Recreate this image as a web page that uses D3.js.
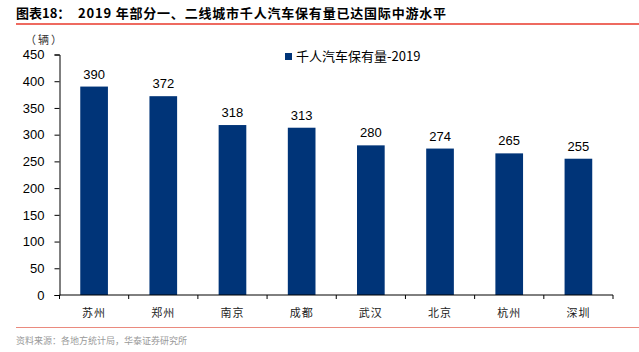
<!DOCTYPE html>
<html>
<head>
<meta charset="utf-8">
<script src="https://cdn.jsdelivr.net/npm/d3@7"></script>
<style>
  body { margin: 0; background: #fff; }
  svg { display: block; }
</style>
</head>
<body>
<svg width="639" height="352"></svg>
<script>
const cities = ["苏州", "郑州", "南京", "成都", "武汉", "北京", "杭州", "深圳"];
const values = [390, 372, 318, 313, 280, 274, 265, 255];
const yTicks = [0, 50, 100, 150, 200, 250, 300, 350, 400, 450];
const seriesName = "千人汽车保有量-2019";

const svg = d3.select("svg");
const cjk = "'Noto Sans CJK SC', sans-serif";
const latin = "'Liberation Sans', Arial, sans-serif";
const barColor = "#003478";

const margin = { top: 54.5, right: 26, bottom: 57, left: 59.5 };
const width = 639 - margin.left - margin.right;
const height = 352 - margin.top - margin.bottom;
const chart = svg.append("g").attr("transform", `translate(${margin.left},${margin.top})`);

// Title
svg.append("text")
  .attr("x", 16).attr("y", 18)
  .attr("font-family", cjk).attr("font-weight", "bold").attr("font-size", 13)
  .attr("fill", "#000")
  .text("图表18：");
svg.append("text")
  .attr("x", 78).attr("y", 18)
  .attr("font-family", cjk).attr("font-weight", "bold").attr("font-size", 13)
  .attr("letter-spacing", 0.8)
  .attr("fill", "#000")
  .text("2019 年部分一、二线城市千人汽车保有量已达国际中游水平");
svg.append("line")
  .attr("x1", 16).attr("x2", 639).attr("y1", 24).attr("y2", 24)
  .attr("stroke", "#e8392b").attr("stroke-width", 1.5);

// Unit
svg.append("text")
  .attr("x", 25).attr("y", 44)
  .attr("font-family", cjk).attr("font-size", 11).attr("fill", "#333")
  .attr("letter-spacing", 2)
  .text("（辆）");

const x = d3.scaleBand().domain(cities).range([0, width]).paddingInner(0.6).paddingOuter(0.3);
const xb = d3.scaleBand().domain(cities).range([0, width]);
const y = d3.scaleLinear().domain([0, 450]).range([height, 0]);

// Y axis
const yAxis = chart.append("g")
  .call(d3.axisLeft(y).tickValues(yTicks).tickSize(5).tickPadding(10));
yAxis.select(".domain").attr("stroke", "#000");
yAxis.selectAll(".tick line").attr("stroke", "#000");
yAxis.selectAll("text")
  .attr("font-family", latin).attr("font-size", 13).attr("fill", "#000");

// Bars
chart.selectAll("rect.bar")
  .data(values)
  .enter()
  .append("rect")
  .attr("class", "bar")
  .attr("x", (d, i) => x(cities[i]))
  .attr("y", d => y(d))
  .attr("width", x.bandwidth())
  .attr("height", d => height - y(d))
  .attr("fill", barColor);

// Value labels
chart.selectAll("text.val")
  .data(values)
  .enter()
  .append("text")
  .attr("class", "val")
  .attr("x", (d, i) => x(cities[i]) + x.bandwidth() / 2)
  .attr("y", d => y(d) - 8)
  .attr("text-anchor", "middle")
  .attr("font-family", latin).attr("font-size", 13).attr("fill", "#000")
  .text(d => d);

// X axis with ticks at category boundaries
const xAxisG = chart.append("g").attr("transform", `translate(0,${height})`);
xAxisG.append("line")
  .attr("x1", 0).attr("x2", width)
  .attr("stroke", "#000");
xAxisG.selectAll("line.tk")
  .data(d3.range(cities.length + 1))
  .enter()
  .append("line")
  .attr("class", "tk")
  .attr("x1", i => i * xb.step()).attr("x2", i => i * xb.step())
  .attr("y1", 0).attr("y2", 4)
  .attr("stroke", "#000");
xAxisG.selectAll("text")
  .data(cities)
  .enter()
  .append("text")
  .attr("x", d => xb(d) + xb.bandwidth() / 2)
  .attr("y", 22)
  .attr("text-anchor", "middle")
  .attr("font-family", cjk).attr("font-size", 11).attr("letter-spacing", 1)
  .attr("fill", "#222")
  .text(d => d);

// Legend
svg.append("rect")
  .attr("x", 285).attr("y", 53).attr("width", 7).attr("height", 7)
  .attr("fill", barColor);
svg.append("text")
  .attr("x", 296).attr("y", 61)
  .attr("font-family", cjk).attr("font-size", 13).attr("fill", "#000")
  .text(seriesName);

// Bottom rule and source
svg.append("line")
  .attr("x1", 16).attr("x2", 639).attr("y1", 327.5).attr("y2", 327.5)
  .attr("stroke", "#ea8a7e").attr("stroke-width", 1.2);
svg.append("text")
  .attr("x", 16).attr("y", 344)
  .attr("font-family", cjk).attr("font-size", 9).attr("fill", "#999")
  .text("资料来源：各地方统计局，华泰证券研究所");
</script>
</body>
</html>
